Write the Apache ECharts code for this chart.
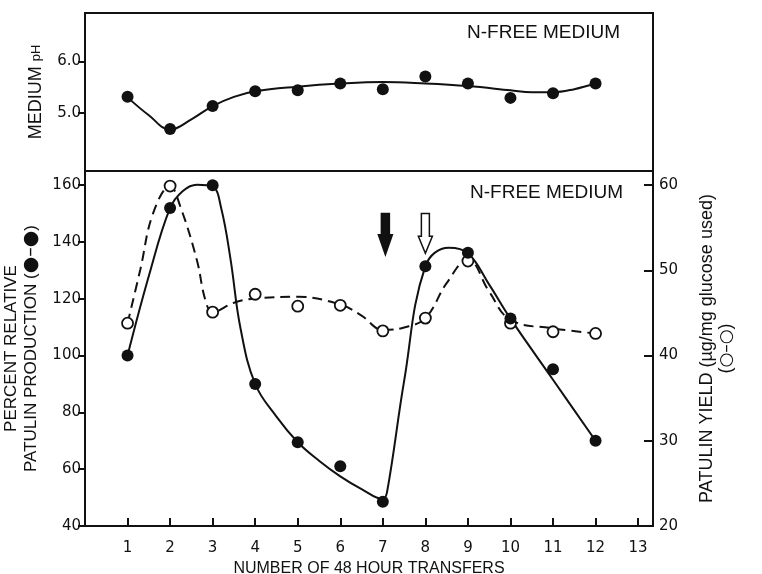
<!DOCTYPE html>
<html>
<head>
<meta charset="utf-8">
<script src="https://cdn.jsdelivr.net/npm/echarts@6/dist/echarts.min.js"></script>
<style>html,body{margin:0;padding:0;background:#fff}#c{width:762px;height:574px}</style>
</head>
<body>
<div id="c"></div>
<script>
// ---- data ----
const xTicks = [1,2,3,4,5,6,7,8,9,10,11,12,13];
const transfers = [1,2,3,4,5,6,7,8,9,10,11,12];
const phTicks = [5.0, 6.0];
const leftTicks = [40,60,80,100,120,140,160];
const rightTicks = [20,30,40,50,60];

const phValues = [5.31,4.68,5.13,5.42,5.44,5.57,5.46,5.71,5.57,5.29,5.38,5.57];
const phCurve = [[1,5.3],[1.5,4.95],[2,4.67],[2.5,4.87],[3,5.13],[3.5,5.31],[4,5.42],[5,5.51],[6,5.57],[7,5.6],[8,5.57],[9,5.52],[10,5.44],[10.5,5.4],[11,5.4],[11.5,5.46],[12,5.57]];

const relProduction = [100,152,160,90,69.5,61,48.5,131.5,136.2,113.1,95.2,70];
const relCurve = [[1,100],[1.5,128],[2,152],[2.3,158],[2.63,160.2],[3,159.5],[3.2,152],[3.42,134],[3.65,110],[4,90],[4.5,78.5],[5,69.5],[5.5,63],[6,57.5],[6.5,53],[7,49.5],[7.1,52],[7.5,91],[8,131.5],[8.55,138],[9,136],[9.5,125],[10,113],[11,91.5],[12,70]];

const yieldValues = [43.8,59.9,45.1,47.2,45.8,45.9,42.9,44.4,51.1,43.8,42.8,42.6];
const yieldCurve = [[1,43.8],[1.3,50.1],[1.6,56.7],[2,59.9],[2.24,57.5],[2.63,51.2],[2.83,46.5],[3,45.1],[3.5,46.2],[4,46.7],[5,46.9],[6,46.0],[6.5,44.7],[7,43.0],[7.5,43.3],[8,44.4],[8.5,48.5],[9,51.3],[9.5,47.5],[10,44.2],[11,43.2],[12,42.6]];

// arrows: [x, top value, tip value, filled(1)/open(0)] on left axis
const arrows = [[7.06,150,135.5,1],[8.0,150,136,0]];

// ---- chart ----
const FONT = 'Liberation Sans';
const NUMFONT = 'DejaVu Sans';
const ink = '#111';
const chart = echarts.init(document.getElementById('c'), null, {renderer:'canvas'});

function pair(xs, ys){ return xs.map((x,i)=>[x, ys[i]]); }

const labelStyle = {color: ink, fontFamily: NUMFONT, fontSize: 15};

chart.setOption({
  animation: false,
  backgroundColor: '#fff',
  title: [
    {text: 'N-FREE MEDIUM', left: 462, top: 18, textStyle: {color: ink, fontFamily: FONT, fontSize: 19, fontWeight: 'normal'}},
    {text: 'N-FREE MEDIUM', left: 465, top: 178, textStyle: {color: ink, fontFamily: FONT, fontSize: 19, fontWeight: 'normal'}}
  ],
  grid: [
    {left: 85, right: 109, top: 13, height: 158, show: true, borderColor: ink, borderWidth: 2, backgroundColor: 'transparent', outerBoundsMode: 'none', containLabel: false},
    {left: 85, right: 109, top: 171, bottom: 48, show: true, borderColor: ink, borderWidth: 2, backgroundColor: 'transparent', outerBoundsMode: 'none', containLabel: false}
  ],
  xAxis: [
    {gridIndex: 0, type: 'value', min: 0, max: 13.35, axisLine: {show: false}, axisTick: {show: false}, axisLabel: {show: false}, splitLine: {show: false}},
    {gridIndex: 1, type: 'value', min: 0, max: 13.35,
     name: 'NUMBER OF 48 HOUR TRANSFERS', nameLocation: 'middle', nameGap: 33,
     nameTextStyle: {color: ink, fontFamily: FONT, fontSize: 16},
     axisLine: {show: true, lineStyle: {color: ink, width: 2}},
     axisTick: {show: true, inside: true, length: 8, lineStyle: {color: ink, width: 2}, customValues: xTicks},
     axisLabel: Object.assign({customValues: xTicks, margin: 15}, labelStyle),
     splitLine: {show: false}}
  ],
  yAxis: [
    {gridIndex: 0, type: 'value', min: 3.86, max: 6.95,
     name: 'MEDIUM {s|pH}', nameLocation: 'middle', nameRotate: 90, nameGap: 40,
     nameTextStyle: {color: ink, fontFamily: FONT, fontSize: 18, padding: [0, 0, 0, 0], rich: {s: {fontFamily: FONT, fontSize: 13, color: ink}}},
     axisLine: {show: true, lineStyle: {color: ink, width: 2}},
     axisTick: {show: true, inside: false, length: 7, lineStyle: {color: ink, width: 2}, customValues: phTicks},
     axisLabel: Object.assign({customValues: phTicks, margin: 4, formatter: v => v.toFixed(1)}, labelStyle),
     splitLine: {show: false}},
    {gridIndex: 1, type: 'value', min: 40, max: 165,
     name: 'PERCENT RELATIVE\nPATULIN PRODUCTION ({b|●–●})', nameLocation: 'middle', nameRotate: 90, nameGap: 42,
     nameTextStyle: {color: ink, fontFamily: FONT, fontSize: 17, lineHeight: 20,
       rich: {b: {fontFamily: NUMFONT, fontSize: 19, lineHeight: 20, color: ink}}},
     axisLine: {show: true, lineStyle: {color: ink, width: 2}},
     axisTick: {show: true, inside: false, length: 7, lineStyle: {color: ink, width: 2}, customValues: leftTicks},
     axisLabel: Object.assign({customValues: leftTicks, margin: 4}, labelStyle),
     splitLine: {show: false}},
    {gridIndex: 1, type: 'value', position: 'right', min: 20, max: 20 + 125/3,
     name: 'PATULIN YIELD (µg/mg glucose used)\n({b|○–○})', nameLocation: 'middle', nameRotate: 90, nameGap: 45,
     nameTextStyle: {color: ink, fontFamily: FONT, fontSize: 18, lineHeight: 19,
       rich: {b: {fontFamily: NUMFONT, fontSize: 17, lineHeight: 19, color: ink}}},
     axisLine: {show: true, lineStyle: {color: ink, width: 2}},
     axisTick: {show: true, inside: true, length: 9, lineStyle: {color: ink, width: 2}, customValues: rightTicks},
     axisLabel: Object.assign({customValues: rightTicks, margin: 6}, labelStyle),
     splitLine: {show: false}}
  ],
  series: [
    {type: 'line', xAxisIndex: 0, yAxisIndex: 0, data: phCurve, smooth: 0.4, showSymbol: false,
     lineStyle: {color: ink, width: 2}, z: 2},
    {type: 'scatter', xAxisIndex: 0, yAxisIndex: 0, data: pair(transfers, phValues), symbol: 'circle', symbolSize: 12,
     itemStyle: {color: ink, opacity: 1}, z: 3},
    {type: 'line', xAxisIndex: 1, yAxisIndex: 2, data: yieldCurve, smooth: 0.4, showSymbol: false,
     lineStyle: {color: ink, width: 2, type: [10, 6]}, z: 2},
    {type: 'line', xAxisIndex: 1, yAxisIndex: 1, data: relCurve, smooth: 0.4, showSymbol: false,
     lineStyle: {color: ink, width: 2}, z: 2},
    {type: 'scatter', xAxisIndex: 1, yAxisIndex: 2, data: pair(transfers, yieldValues), symbol: 'circle', symbolSize: 11,
     itemStyle: {color: '#fff', borderColor: ink, borderWidth: 1.8, opacity: 1}, z: 4},
    {type: 'scatter', xAxisIndex: 1, yAxisIndex: 1, data: pair(transfers, relProduction), symbol: 'circle', symbolSize: 12,
     itemStyle: {color: ink, opacity: 1}, z: 5},
    {type: 'custom', xAxisIndex: 1, yAxisIndex: 1, data: arrows, z: 6,
     renderItem: function(params, api){
       const top = api.coord([api.value(0), api.value(1)]);
       const tip = api.coord([api.value(0), api.value(2)]);
       const filled = api.value(3) === 1;
       const cx = top[0], sw = 4, hw = 7, hl = filled ? 20 : 17;
       const pts = [[cx-sw, top[1]],[cx+sw, top[1]],[cx+sw, tip[1]-hl],[cx+hw, tip[1]-hl],[cx, tip[1]],[cx-hw, tip[1]-hl],[cx-sw, tip[1]-hl]];
       return {type: 'polygon', shape: {points: pts},
               style: {fill: filled ? ink : '#fff', stroke: ink, lineWidth: 1.5}};
     }}
  ]
});
</script>
</body>
</html>
